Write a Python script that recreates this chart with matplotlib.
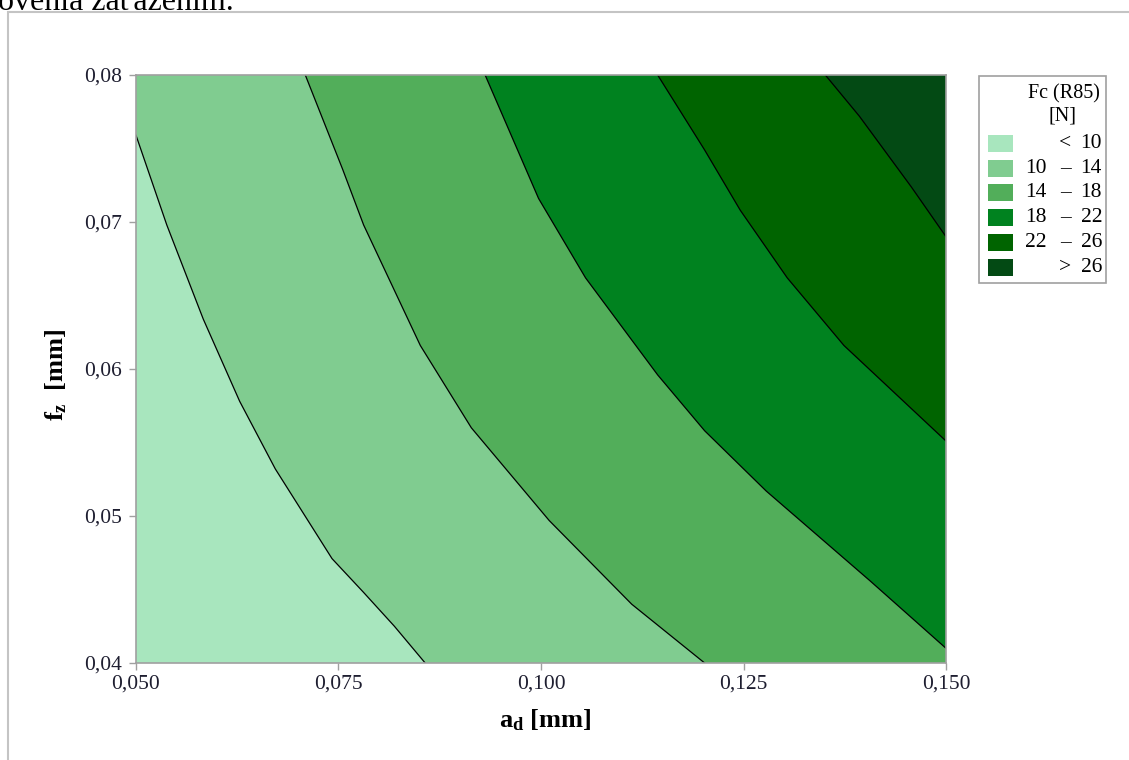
import numpy as np
import matplotlib.pyplot as plt
from matplotlib.patches import Polygon, Rectangle
from matplotlib.ticker import FuncFormatter

plt.rcParams['font.family'] = ['Liberation Serif', 'DejaVu Serif']
plt.rcParams['mathtext.fontset'] = 'custom'
plt.rcParams['mathtext.rm'] = 'Liberation Serif'
plt.rcParams['mathtext.bf'] = 'Liberation Serif:bold'
plt.rcParams['mathtext.it'] = 'Liberation Serif:italic'

# ===============================
# DATA
# ===============================
AD_MIN, AD_MAX = 0.05, 0.15
FZ_MIN, FZ_MAX = 0.04, 0.08

x_ticks = [0.050, 0.075, 0.100, 0.125, 0.150]
y_ticks = [0.04, 0.05, 0.06, 0.07, 0.08]

levels = [10, 14, 18, 22, 26]
band_colors = ['#a8e6be', '#80cc90', '#52ae5a', '#00821f', '#006400', '#034a14']

# iso-lines of Fc (R85) [N], as (a_d, f_z) points
c10_ad = [0.0500, 0.0538, 0.0583, 0.0628, 0.0672, 0.0742, 0.0781, 0.0819, 0.0857]
c10_fz = [0.0759, 0.0698, 0.0634, 0.0578, 0.0532, 0.0471, 0.0448, 0.0425, 0.0400]

c14_ad = [0.0709, 0.0755, 0.0781, 0.0851, 0.0914, 0.1010, 0.1112, 0.1202]
c14_fz = [0.0800, 0.0736, 0.0698, 0.0616, 0.0560, 0.0497, 0.0440, 0.0400]

c18_ad = [0.0931, 0.0997, 0.1055, 0.1144, 0.1202, 0.1278, 0.1406, 0.1500]
c18_fz = [0.0800, 0.0716, 0.0662, 0.0596, 0.0558, 0.0517, 0.0456, 0.0410]

c22_ad = [0.1144, 0.1202, 0.1246, 0.1304, 0.1374, 0.1500]
c22_fz = [0.0800, 0.0749, 0.0708, 0.0662, 0.0616, 0.0551]

c26_ad = [0.1351, 0.1393, 0.1457, 0.1500]
c26_fz = [0.0800, 0.0772, 0.0724, 0.0690]

contours = [(c10_ad, c10_fz), (c14_ad, c14_fz), (c18_ad, c18_fz),
            (c22_ad, c22_fz), (c26_ad, c26_fz)]


def region_above(ad, fz):
    # everything on the high side of one iso-line, closed via the top-right corner
    pts = list(zip(ad, fz))
    if ad[0] <= AD_MIN:
        pts.insert(0, (AD_MIN, FZ_MAX))
    if fz[-1] <= FZ_MIN:
        pts.append((AD_MAX, FZ_MIN))
    pts.append((AD_MAX, FZ_MAX))
    return pts


# ===============================
# FIGURE
# ===============================
W, H = 1129, 760
fig = plt.figure(figsize=(W / 100, H / 100), dpi=100)


def px(x, y):
    return x / W, 1 - y / H


# page frame and the cut-off caption line above it
fig.add_artist(Rectangle(px(8, 800), 1.2, (800 - 12) / H, transform=fig.transFigure,
                         fill=False, edgecolor='#c4c4c4', linewidth=1.5))
fig.text(*px(-2, 10), 'ovenia zaťažením.', fontsize=23, ha='left', va='baseline',
         color='black')

ax = fig.add_axes([136 / W, (H - 663) / H, (946 - 136) / W, (663 - 75) / H])

# ===============================
# FILLED CONTOURS
# ===============================
ax.fill([AD_MIN, AD_MAX, AD_MAX, AD_MIN], [FZ_MIN, FZ_MIN, FZ_MAX, FZ_MAX],
        color=band_colors[0], linewidth=0)
for (ad, fz), col in zip(contours, band_colors[1:]):
    ax.add_patch(Polygon(region_above(ad, fz), closed=True, facecolor=col,
                         edgecolor='none'))
for ad, fz in contours:
    ax.plot(ad, fz, color='black', linewidth=0.9)

ax.set_xlim(AD_MIN, AD_MAX)
ax.set_ylim(FZ_MIN, FZ_MAX)

# ===============================
# AXES STYLE
# ===============================
ax.set_xticks(x_ticks)
ax.set_yticks(y_ticks)
ax.xaxis.set_major_formatter(FuncFormatter(lambda v, p: f'{v:.3f}'.replace('.', ',')))
ax.yaxis.set_major_formatter(FuncFormatter(lambda v, p: f'{v:.2f}'.replace('.', ',')))
ax.tick_params(direction='out', length=5, width=1, color='#a0a0a0',
               labelsize=15.5, labelcolor='#1e1e30')
ax.tick_params(axis='x', pad=3)
ax.tick_params(axis='y', pad=5)
for s in ax.spines.values():
    s.set_color('#a0a0a0')
    s.set_linewidth(1.2)

ax.set_xlabel(r'$\mathbf{a_d}$ [mm]', fontsize=19, fontweight='bold')
ax.set_ylabel(r'$\mathbf{f_z}$  [mm]', fontsize=19, fontweight='bold')
ax.xaxis.set_label_coords(0.505, -0.075)
ax.yaxis.set_label_coords(-0.083, 0.49)

# ===============================
# LEGEND
# ===============================
fig.add_artist(Rectangle(px(979, 283), (1106 - 979) / W, (283 - 76) / H,
                         transform=fig.transFigure, facecolor='white',
                         edgecolor='#a0a0a0', linewidth=1.2))
fig.text(*px(1064, 94), 'Fc (R85)', fontsize=14.5, ha='center', va='center')
fig.text(*px(1063, 116), '[N]', fontsize=14.5, ha='center', va='center')

band_texts = [('', '<', levels[0])]
for lo, hi in zip(levels[:-1], levels[1:]):
    band_texts.append((lo, '\u2013', hi))
band_texts.append(('', '>', levels[-1]))

for i, ((lo, mid, hi), col) in enumerate(zip(band_texts, band_colors)):
    yc = 143.5 + i * 24.7
    fig.add_artist(Rectangle(px(988, yc + 8.5), 25 / W, 17 / H,
                             transform=fig.transFigure, facecolor=col,
                             edgecolor='none'))
    if lo != '':
        fig.text(*px(1047, yc), str(lo), fontsize=15.5, ha='right', va='center')
    fig.text(*px(1065, yc), mid, fontsize=15.5, ha='center', va='center')
    fig.text(*px(1102, yc), str(hi), fontsize=15.5, ha='right', va='center')

plt.savefig('out.png', dpi=100)
